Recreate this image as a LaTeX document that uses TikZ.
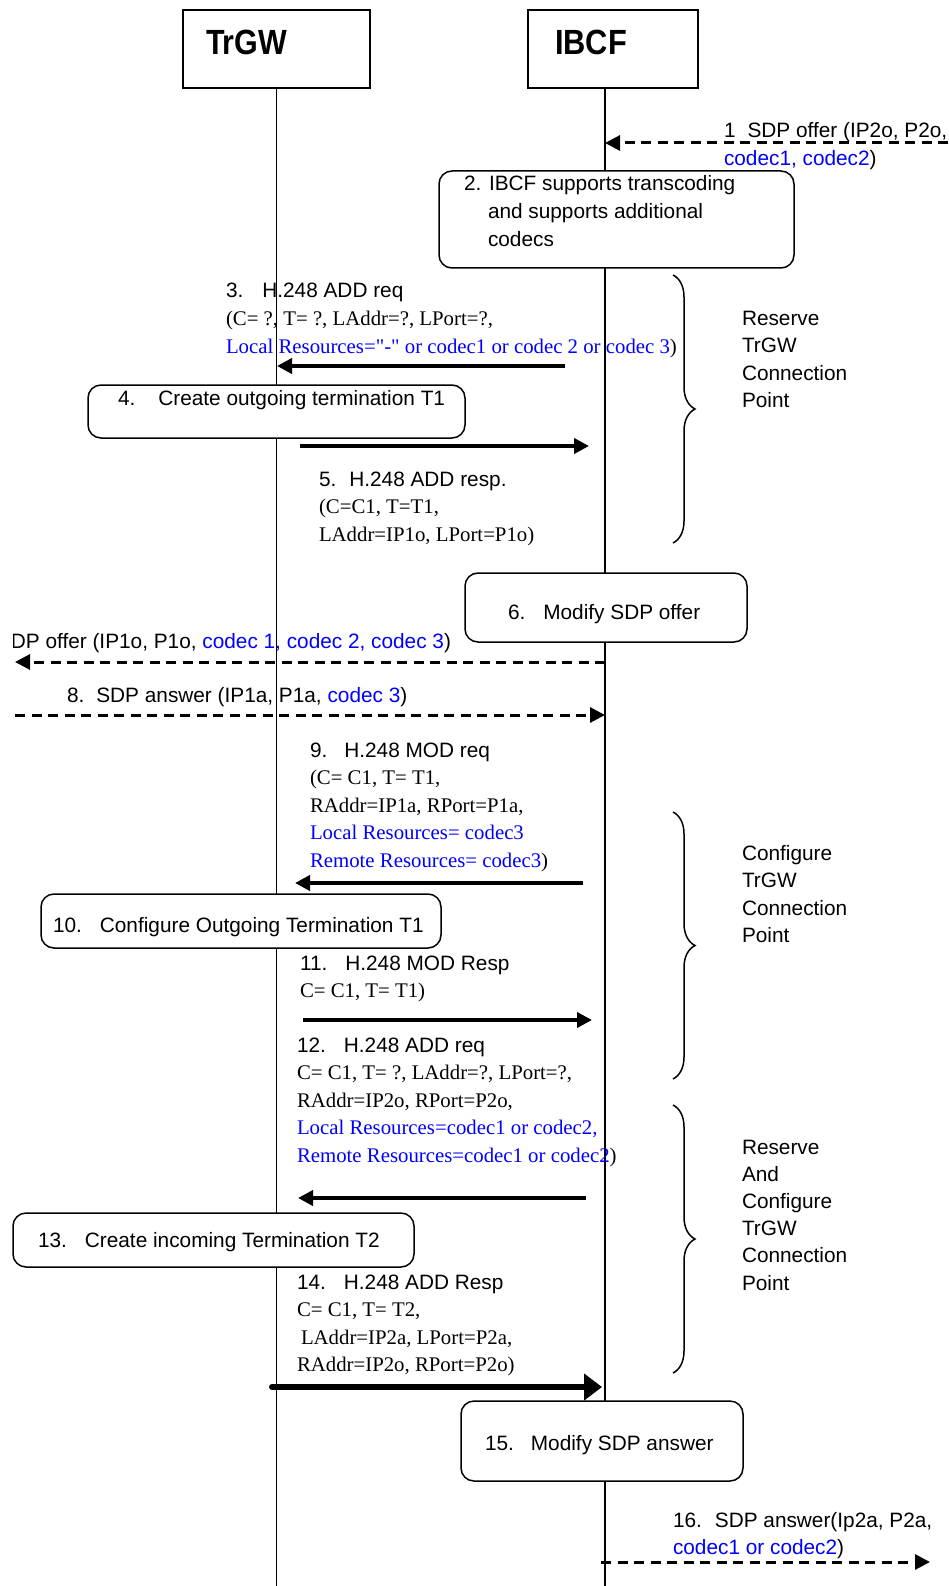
\documentclass[tikz,border=0pt]{standalone}
\usepackage{fontspec}
\setmainfont{Liberation Serif}[Ligatures=TeXOff]
\setsansfont{Liberation Sans}
\usetikzlibrary{arrows.meta,decorations.pathreplacing}
\definecolor{cblue}{RGB}{0,0,255}
\newcommand{\gp}[1]{\hspace*{#1pt}}
\newcommand{\bl}[1]{{\color{cblue}#1}}
\newcommand{\ml}[1]{\begin{tabular}[t]{@{}l@{}}#1\end{tabular}}
\begin{document}
\begin{tikzpicture}[x=1pt,y=-1pt,
  every node/.style={inner sep=0pt, outer sep=0pt},
  txt/.style={anchor=base west, font=\sffamily\fontsize{20.8}{27.6}\selectfont},
  hdr/.style={draw, line width=1.5pt, fill=white},
  hdrtxt/.style={anchor=base west, font=\sffamily\bfseries\fontsize{35}{40}\selectfont},
  life/.style={line width=1.3pt},
  rbox/.style={draw, line width=1.5pt, fill=white, rounded corners=13pt},
  msg/.style={line width=4pt, -{Triangle[length=15pt,width=15pt]}},
  dmsg/.style={line width=3pt, dash pattern=on 10pt off 6.5pt, -{Triangle[length=15pt,width=15pt]}},
  bigmsg/.style={line width=6pt, line cap=round, -{Triangle[length=18pt,width=26pt]}},
  brc/.style={decorate, decoration={brace, amplitude=22pt}, line width=1.5pt},
]
\useasboundingbox (0,0) rectangle (948,1586);
\clip (0,0) rectangle (948,1586);

% header boxes
\node[hdr, minimum width=187pt, minimum height=78pt] (trgw) at (276.5,49) {};
\node[hdr, minimum width=170pt, minimum height=78pt] (ibcf) at (613,49) {};
\node[hdrtxt] (trgwt) at (206,55) {\scalebox{0.87}[1]{TrGW}};
\node[hdrtxt] (ibcft) at (555,55) {\scalebox{0.88}[1]{IBCF}};

% lifelines
\coordinate (trgwbot) at (276.5,1586);
\coordinate (ibcftop) at (605,88);
\coordinate (ibcfbot) at (605,1586);
\draw[life] (trgw.south) -- (trgwbot);
\draw[life] (ibcftop) -- (ibcfbot);

% process boxes
\node[rbox, minimum width=355pt, minimum height=97pt] (box2) at (616.5,219.5) {};
\node[rbox, minimum width=377pt, minimum height=53pt] (box4) at (276.5,411.5) {};
\node[rbox, minimum width=282pt, minimum height=69pt] (box6) at (606,607.5) {};
\node[rbox, minimum width=400pt, minimum height=54pt] (box10) at (241,921) {};
\node[rbox, minimum width=401pt, minimum height=54pt] (box13) at (213.5,1240) {};
\node[rbox, minimum width=282pt, minimum height=80pt] (box15) at (602,1441) {};

% texts
\node[txt] (t1) at (724,138) {\ml{1\gp{12}SDP offer (IP2o, P2o,\\\bl{codec1, codec2})}};
\node[txt] (t2) at (464,191) {\ml{2. IBCF supports transcoding\\\gp{24}and supports additional\\\gp{24}codecs}};
\node[txt] (t3) at (226,298) {\ml{3.\gp{19}H.248 ADD req\\{\rmfamily (C= ?, T= ?, LAddr=?, LPort=?,}\\{\rmfamily\bl{Local Resources="-" or codec1 or codec 2 or codec 3})}}};
\node[txt] (t4) at (118,405) {4.\gp{23}Create outgoing termination T1};
\node[txt] (t5) at (319,486) {\ml{5.\gp{13}H.248 ADD resp.\\{\rmfamily (C=C1, T=T1,}\\{\rmfamily LAddr=IP1o, LPort=P1o)}}};
\node[txt] (t6) at (508,619) {6.\gp{18}Modify SDP offer};
\begin{scope}
\clip (13,600) rectangle (600,680);
\node[txt, anchor=base east] (t7) at (451,648) {7.\gp{12}SDP offer (IP1o, P1o, \bl{codec 1, codec 2, codec 3})};
\end{scope}
\node[txt] (t8) at (67,702) {8.\gp{12}SDP answer (IP1a, P1a, \bl{codec 3})};
\node[txt] (t9) at (310,757) {\ml{9.\gp{17}H.248 MOD req\\{\rmfamily (C= C1, T= T1,}\\{\rmfamily RAddr=IP1a, RPort=P1a,}\\{\rmfamily\bl{Local Resources= codec3}}\\{\rmfamily\bl{Remote Resources= codec3})}}};
\node[txt] (t10) at (53,932) {10.\gp{18}Configure Outgoing Termination T1};
\node[txt] (t11) at (300,970) {\ml{11.\gp{18}H.248 MOD Resp\\{\rmfamily C= C1, T= T1)}}};
\node[txt] (t12) at (297,1052) {\ml{12.\gp{18}H.248 ADD req\\{\rmfamily C= C1, T= ?, LAddr=?, LPort=?,}\\{\rmfamily RAddr=IP2o, RPort=P2o,}\\{\rmfamily\bl{Local Resources=codec1 or codec2,}}\\{\rmfamily\bl{Remote Resources=codec1 or codec2})}}};
\node[txt] (t13) at (38,1247) {13.\gp{18}Create incoming Termination T2};
\node[txt] (t14) at (297,1289) {\ml{14.\gp{18}H.248 ADD Resp\\{\rmfamily C= C1, T= T2,}\\{\rmfamily\gp{4}LAddr=IP2a, LPort=P2a,}\\{\rmfamily RAddr=IP2o, RPort=P2o)}}};
\node[txt] (t15) at (485,1450) {15.\gp{17}Modify SDP answer};
\node[txt] (t16) at (673,1527) {\ml{16.\gp{13}SDP answer(Ip2a, P2a,\\\bl{codec1 or codec2})}};

% brace labels
\node[txt] (b1t) at (742,325) {\ml{Reserve\\TrGW\\Connection\\Point}};
\node[txt] (b2t) at (742,860) {\ml{Configure\\TrGW\\Connection\\Point}};
\node[txt, font=\sffamily\fontsize{20.8}{27.2}\selectfont] (b3t) at (742,1154) {\ml{Reserve\\And\\Configure\\TrGW\\Connection\\Point}};

% message end points
\coordinate (m1s) at (948,143);  \coordinate (m1e) at (605,143);
\coordinate (m3s) at (565,366);  \coordinate (m3e) at (277,366);
\coordinate (m5s) at (300,446);  \coordinate (m5e) at (589,446);
\coordinate (m7s) at (605,662);  \coordinate (m7e) at (15,662);
\coordinate (m8s) at (15,715);   \coordinate (m8e) at (605,715);
\coordinate (m9s) at (583,883);  \coordinate (m9e) at (295,883);
\coordinate (m11s) at (303,1020); \coordinate (m11e) at (592,1020);
\coordinate (m12s) at (586,1198); \coordinate (m12e) at (298,1198);
\coordinate (m14s) at (272,1387); \coordinate (m14e) at (602,1387);
\coordinate (m16s) at (601,1562); \coordinate (m16e) at (930,1562);

\draw[dmsg] (m1s) -- (m1e);
\draw[msg] (m3s) -- (m3e);
\draw[msg] (m5s) -- (m5e);
\draw[dmsg] (m7s) -- (m7e);
\draw[dmsg] (m8s) -- (m8e);
\draw[msg] (m9s) -- (m9e);
\draw[msg] (m11s) -- (m11e);
\draw[msg] (m12s) -- (m12e);
\draw[bigmsg] (m14s) -- (m14e);
\draw[dmsg] (m16s) -- (m16e);

% braces
\coordinate (br1a) at (673,275);  \coordinate (br1b) at (673,543);
\coordinate (br2a) at (673,812);  \coordinate (br2b) at (673,1079);
\coordinate (br3a) at (673,1105); \coordinate (br3b) at (673,1373);
\draw[brc] (br1a) -- (br1b);
\draw[brc] (br2a) -- (br2b);
\draw[brc] (br3a) -- (br3b);
\end{tikzpicture}
\end{document}
